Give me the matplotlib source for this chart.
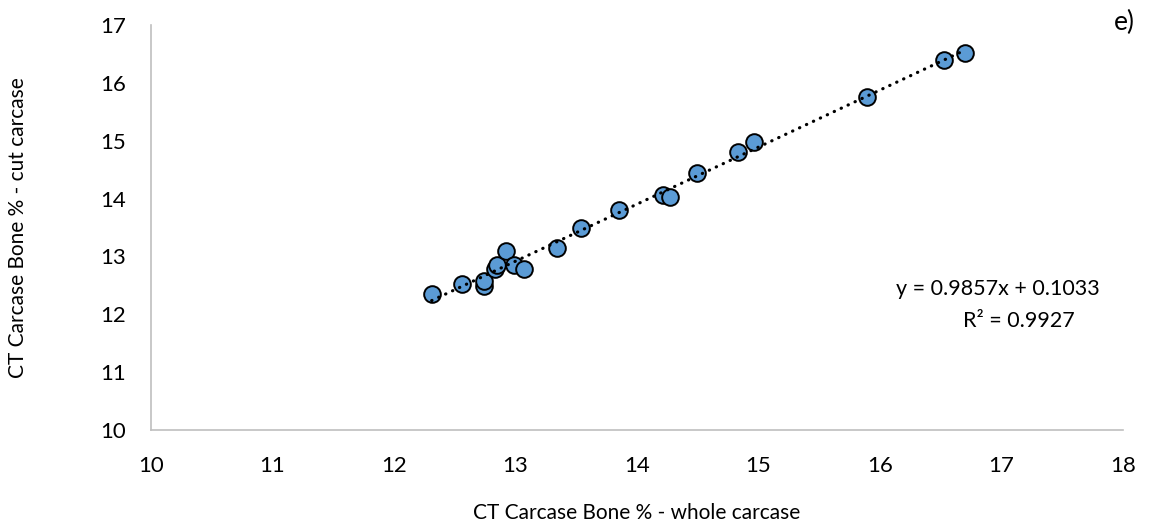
import numpy as np
import matplotlib

matplotlib.use("Agg")
import matplotlib.pyplot as plt

plt.rcParams["font.family"] = ["Lato", "DejaVu Sans"]

# CT bone % measured on the whole carcase vs. the cut carcase
whole = [12.31, 12.56, 12.74, 12.74, 12.83, 12.85, 12.92, 12.99, 13.07, 13.34,
         13.54, 13.85, 14.21, 14.27, 14.49, 14.83, 14.96, 15.89, 16.53, 16.70]
cut = [12.35, 12.52, 12.49, 12.58, 12.79, 12.85, 13.10, 12.85, 12.79, 13.15,
       13.49, 13.80, 14.06, 14.02, 14.44, 14.80, 14.98, 15.76, 16.39, 16.52]

slope = 0.9857
intercept = 0.1033
r2 = 0.9927

x_ticks = [10, 11, 12, 13, 14, 15, 16, 17, 18]
y_ticks = [10, 11, 12, 13, 14, 15, 16, 17]

fig = plt.figure(figsize=(11.53, 5.29), dpi=100, facecolor="white")
ax = fig.add_axes([0.131, 0.187, 0.843, 0.766])

ax.plot(whole, cut, "o", ms=12, mfc="#5B9BD5", mec="black", mew=1.4,
        zorder=2, clip_on=False)

# linear trendline over the data range
xs = np.array([min(whole), max(whole)])
ax.plot(xs, slope * xs + intercept, color="black", lw=2.3,
        linestyle=(0, (0.1, 2.3)), dash_capstyle="round", zorder=3)

ax.set_xlim(10, 18)
ax.set_ylim(10, 17)
ax.set_xticks(x_ticks)
ax.set_yticks(y_ticks)
ax.tick_params(length=0, labelsize=16, colors="#000000")
ax.tick_params(axis="x", pad=19)
ax.tick_params(axis="y", pad=18)

for side in ("top", "right"):
    ax.spines[side].set_visible(False)
for side in ("left", "bottom"):
    ax.spines[side].set_color("#BFBFBF")
    ax.spines[side].set_linewidth(1.2)

ax.set_xlabel("CT Carcase Bone % - whole carcase", fontsize=15, va="center")
ax.set_ylabel("CT Carcase Bone % - cut carcase", fontsize=15, va="center")
ax.xaxis.set_label_coords(0.5, -0.205)
ax.yaxis.set_label_coords(-0.137, 0.5)

fig.text(998 / 1153, 1 - 289 / 529, f"y = {slope}x + {intercept}",
         fontsize=15.5, ha="center", va="center")
fig.text(1019 / 1153, 1 - 321 / 529, f"R² = {r2}",
         fontsize=15.5, ha="center", va="center")
fig.text(1124 / 1153, 1 - 22 / 529, "e)", fontsize=19, ha="center", va="center")

fig.savefig("out.png", dpi=100, facecolor="white")
